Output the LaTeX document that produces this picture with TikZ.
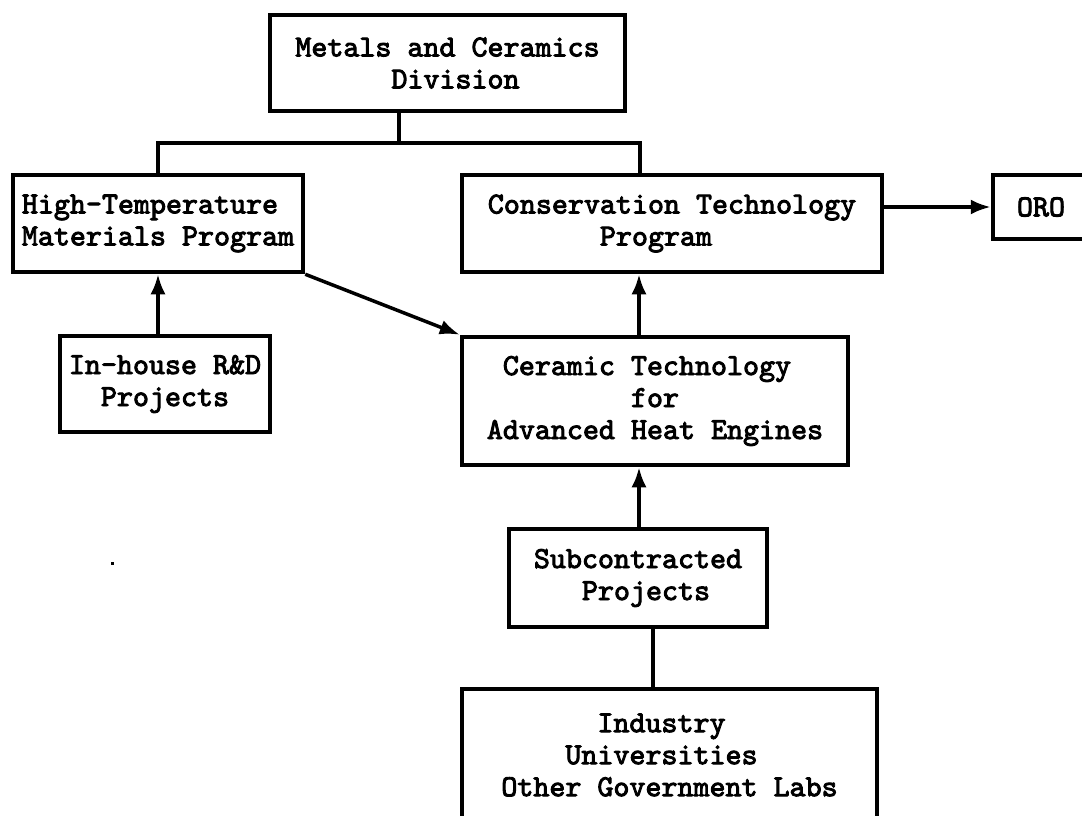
\documentclass[tikz,border=0pt]{standalone}
\usepackage{fontspec}
\usetikzlibrary{arrows.meta}
% heavy typewriter lettering used in every box
\newfontfamily\twbold{lmmono10-regular.otf}[FakeBold=3]
\newcommand\typefont{\fontsize{30.5}{32}\selectfont\twbold}
% blank lead-in of a given number of character cells
\newcommand\pad[1]{\hphantom{#1}}
\begin{document}
\begin{tikzpicture}[x=1pt,y=-1pt,
  box/.style={draw, line width=4.5pt, inner sep=0pt, align=left, font=\typefont},
  link/.style={line width=3.5pt},
  arr/.style={link, -{Latex[length=20pt,width=15pt]}}]
\useasboundingbox (0,0) rectangle (1082,815);
\clip (0,0) rectangle (1082,815);

% boxes
\node[box, minimum width=355pt, minimum height=96pt] (mc) at (447.5,63)
  {Metals and Ceramics\\\pad{000000}Division};
\node[box, minimum width=290pt, minimum height=97pt] (ht) at (158,223.5)
  {High-Temperature\\Materials Program};
\node[box, minimum width=420pt, minimum height=97pt] (ct) at (672,223.5)
  {Conservation Technology\\\pad{0000000}Program};
\node[box, minimum width=96pt, minimum height=64pt] (oro) at (1041,207)
  {ORO};
\node[box, minimum width=210pt, minimum height=96pt] (ih) at (165,384)
  {In-house R\&D\\\pad{00}Projects};
\node[box, minimum width=386pt, minimum height=128pt] (ce) at (655,401)
  {\pad{0}Ceramic Technology\\\pad{000000000}for\\Advanced Heat Engines};
\node[box, minimum width=258pt, minimum height=98pt] (sc) at (638,578)
  {Subcontracted\\\pad{000}Projects};
\node[box, minimum width=415pt, minimum height=132pt] (in) at (669.5,755)
  {\pad{000000}Industry\\\pad{0000}Universities\\Other Government Labs};

% helper points for the branch and the central column
\coordinate (jn) at (399,143);
\coordinate (jr) at (640,0);
\coordinate (col) at (639,0);
\coordinate (low) at (653,0);

% branch from the division to the two programs
\draw[link] (mc.south -| jn) -- (jn);
\draw[link] (ht.north) |- (jn) -| (jr |- ct.north);

% arrows
\draw[arr] (ih.north -| ht.south) -- (ht.south);
\draw[arr] (ht.south east) -- (ce.north west);
\draw[arr] (ce.north -| col) -- (ct.south -| col);
\draw[arr] (sc.north -| col) -- (ce.south -| col);
\draw[arr] (ct.east |- oro.west) -- (oro.west);
\draw[link] (sc.south -| low) -- (in.north -| low);

% small speck
\fill (110.5,561.5) rectangle (113.5,564.5);
\end{tikzpicture}
\end{document}
